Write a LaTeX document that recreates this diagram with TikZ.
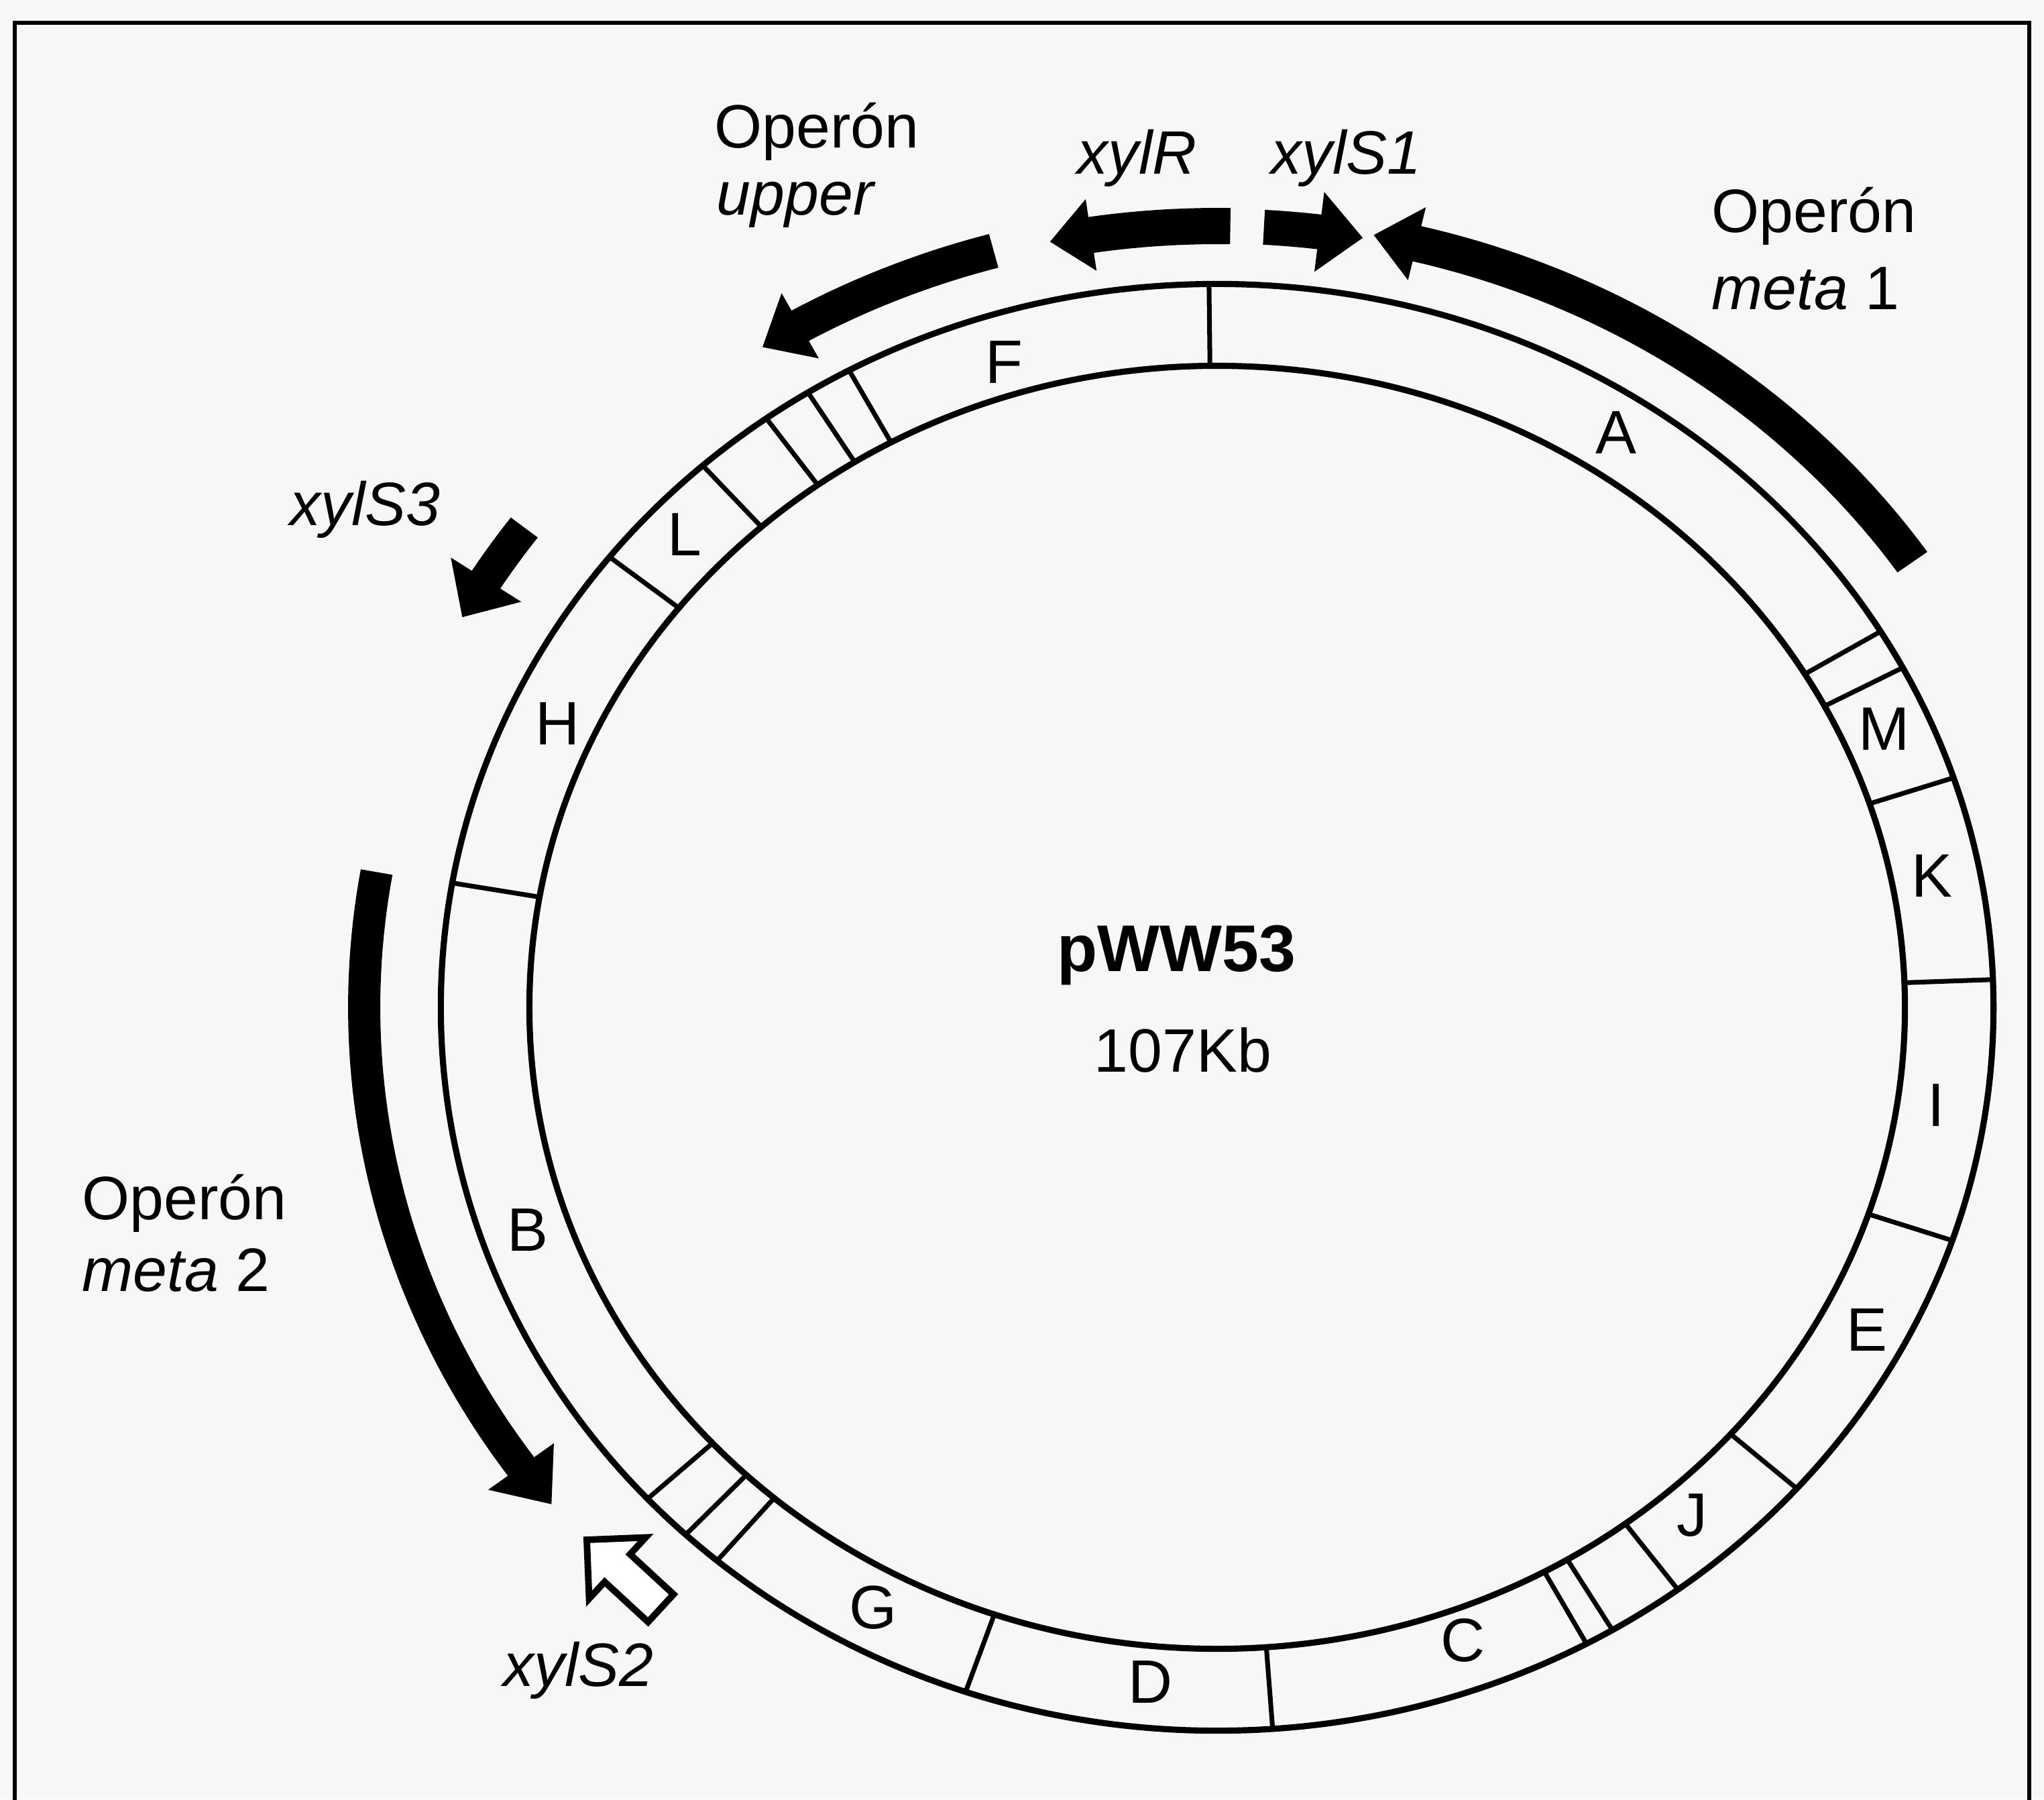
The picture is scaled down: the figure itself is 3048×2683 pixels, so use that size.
\documentclass[tikz,border=0pt]{standalone}
\usepackage{fontspec}
\setmainfont{Liberation Sans}
\newcommand\cxx{1815}
\newcommand\cyy{1502}
% Rx Ry halfwidth headhalfwidth tailangle headbaseangle tipangle
\newcommand\geneArrow[7]{%
  \fill plot[domain=#5:#6, samples=50, variable=\ang] ({\cxx+(#1+#3)*cos(\ang)},{\cyy-(#2+#3)*sin(\ang)})
    -- ({\cxx+(#1+#4)*cos(#6)},{\cyy-(#2+#4)*sin(#6)})
    -- ({\cxx+#1*cos(#7)},{\cyy-#2*sin(#7)})
    -- ({\cxx+(#1-#4)*cos(#6)},{\cyy-(#2-#4)*sin(#6)})
    -- plot[domain=#6:#5, samples=50, variable=\ang] ({\cxx+(#1-#3)*cos(\ang)},{\cyy-(#2-#3)*sin(\ang)})
    -- cycle;}
\begin{document}
\begin{tikzpicture}[x=0.01cm,y=-0.01cm,
  lbl/.style={font=\fontsize{26}{30}\selectfont, inner sep=0pt},
  ringline/.style={line width=2.6pt},
  tickline/.style={line width=2pt},
  outlinearrow/.style={draw=black, fill=white, line width=2.8pt, line join=miter}]
\useasboundingbox (0,0) rectangle (3048,2683);
\fill[black!3] (0,0) rectangle (3048,2683);
\draw[line width=1.6pt] (22,2700) -- (22,34) -- (3026,34) -- (3026,2700);

% ring
\draw[ringline] (\cxx,\cyy) ellipse [x radius=11.57cm, y radius=10.78cm];
\draw[ringline] (\cxx,\cyy) ellipse [x radius=10.25cm, y radius=9.56cm];
\foreach \t in {90.6,118.3,121.8,125.5,131.5,141.5,170.1,222.8,226.8,229.9,251.1,274.1,298.4,300.6,306.4,318.3,341.2,2.2,18.5,28.0,31.3}
  \draw[tickline] ({\cxx+1025*cos(\t)},{\cyy-956*sin(\t)}) -- ({\cxx+1157*cos(\t)},{\cyy-1078*sin(\t)});

% segment letters
\node[lbl] (sF) at (1497,540) {F};
\node[lbl] (sA) at (2410,645) {A};
\node[lbl] (sM) at (2810,1087) {M};
\node[lbl] (sK) at (2881,1306) {K};
\node[lbl] (sI) at (2887,1648) {I};
\node[lbl] (sE) at (2784,1983) {E};
\node[lbl] (sJ) at (2523,2259) {J};
\node[lbl] (sC) at (2181,2446) {C};
\node[lbl] (sD) at (1715,2508) {D};
\node[lbl] (sG) at (1302,2397) {G};
\node[lbl] (sB) at (787,1834) {B};
\node[lbl] (sH) at (832,1079) {H};
\node[lbl] (sL) at (1021,797) {L};

% centre
\node[font=\bfseries\fontsize{28}{32}\selectfont, inner sep=0pt, anchor=base] (pname) at (1754,1448) {pWW53};
\node[lbl, anchor=base] (psize) at (1764,1598) {107Kb};

% gene arrows
\geneArrow{1258}{1172}{27}{56}{34.5}{76.3}{79.3}   % meta 1
\geneArrow{1250}{1165}{26}{60}{86.8}{83.0}{80.0}   % xylS1
\geneArrow{1250}{1165}{27}{54}{89.1}{98.65}{101.5} % xylR
\geneArrow{1255}{1170}{26}{56}{105.4}{119.7}{122.7} % upper
\geneArrow{1287}{1200}{25}{62}{143.4}{147.9}{151.0} % xylS3
\geneArrow{1272}{1185}{24}{60}{170.2}{215.3}{218.7} % meta 2

% xylS2 outline arrow
\draw[outlinearrow] (875,2296) -- (962.7,2292.5) -- (939.6,2317.5) -- (1004.4,2377.3)
  -- (966.4,2418.5) -- (901.6,2358.7) -- (878.5,2383.7) -- cycle;

% labels
\node[lbl, anchor=base west] (opU) at (1065,220) {Operón};
\node[lbl, anchor=base west] (upU) at (1068,320) {\itshape upper};
\node[lbl, anchor=base west] (gR) at (1606,259) {\itshape xylR};
\node[lbl, anchor=base west] (gS1) at (1895,259) {\itshape xylS1};
\node[lbl, anchor=base west] (op1) at (2552,346) {Operón};
\node[lbl, anchor=base west] (me1) at (2552,461) {\textit{meta} 1};
\node[lbl, anchor=base west] (gS3) at (432,783) {\itshape xylS3};
\node[lbl, anchor=base west] (op2) at (122,1818) {Operón};
\node[lbl, anchor=base west] (me2) at (122,1925) {\textit{meta} 2};
\node[lbl, anchor=base west] (gS2) at (750,2514) {\itshape xylS2};
\end{tikzpicture}
\end{document}
